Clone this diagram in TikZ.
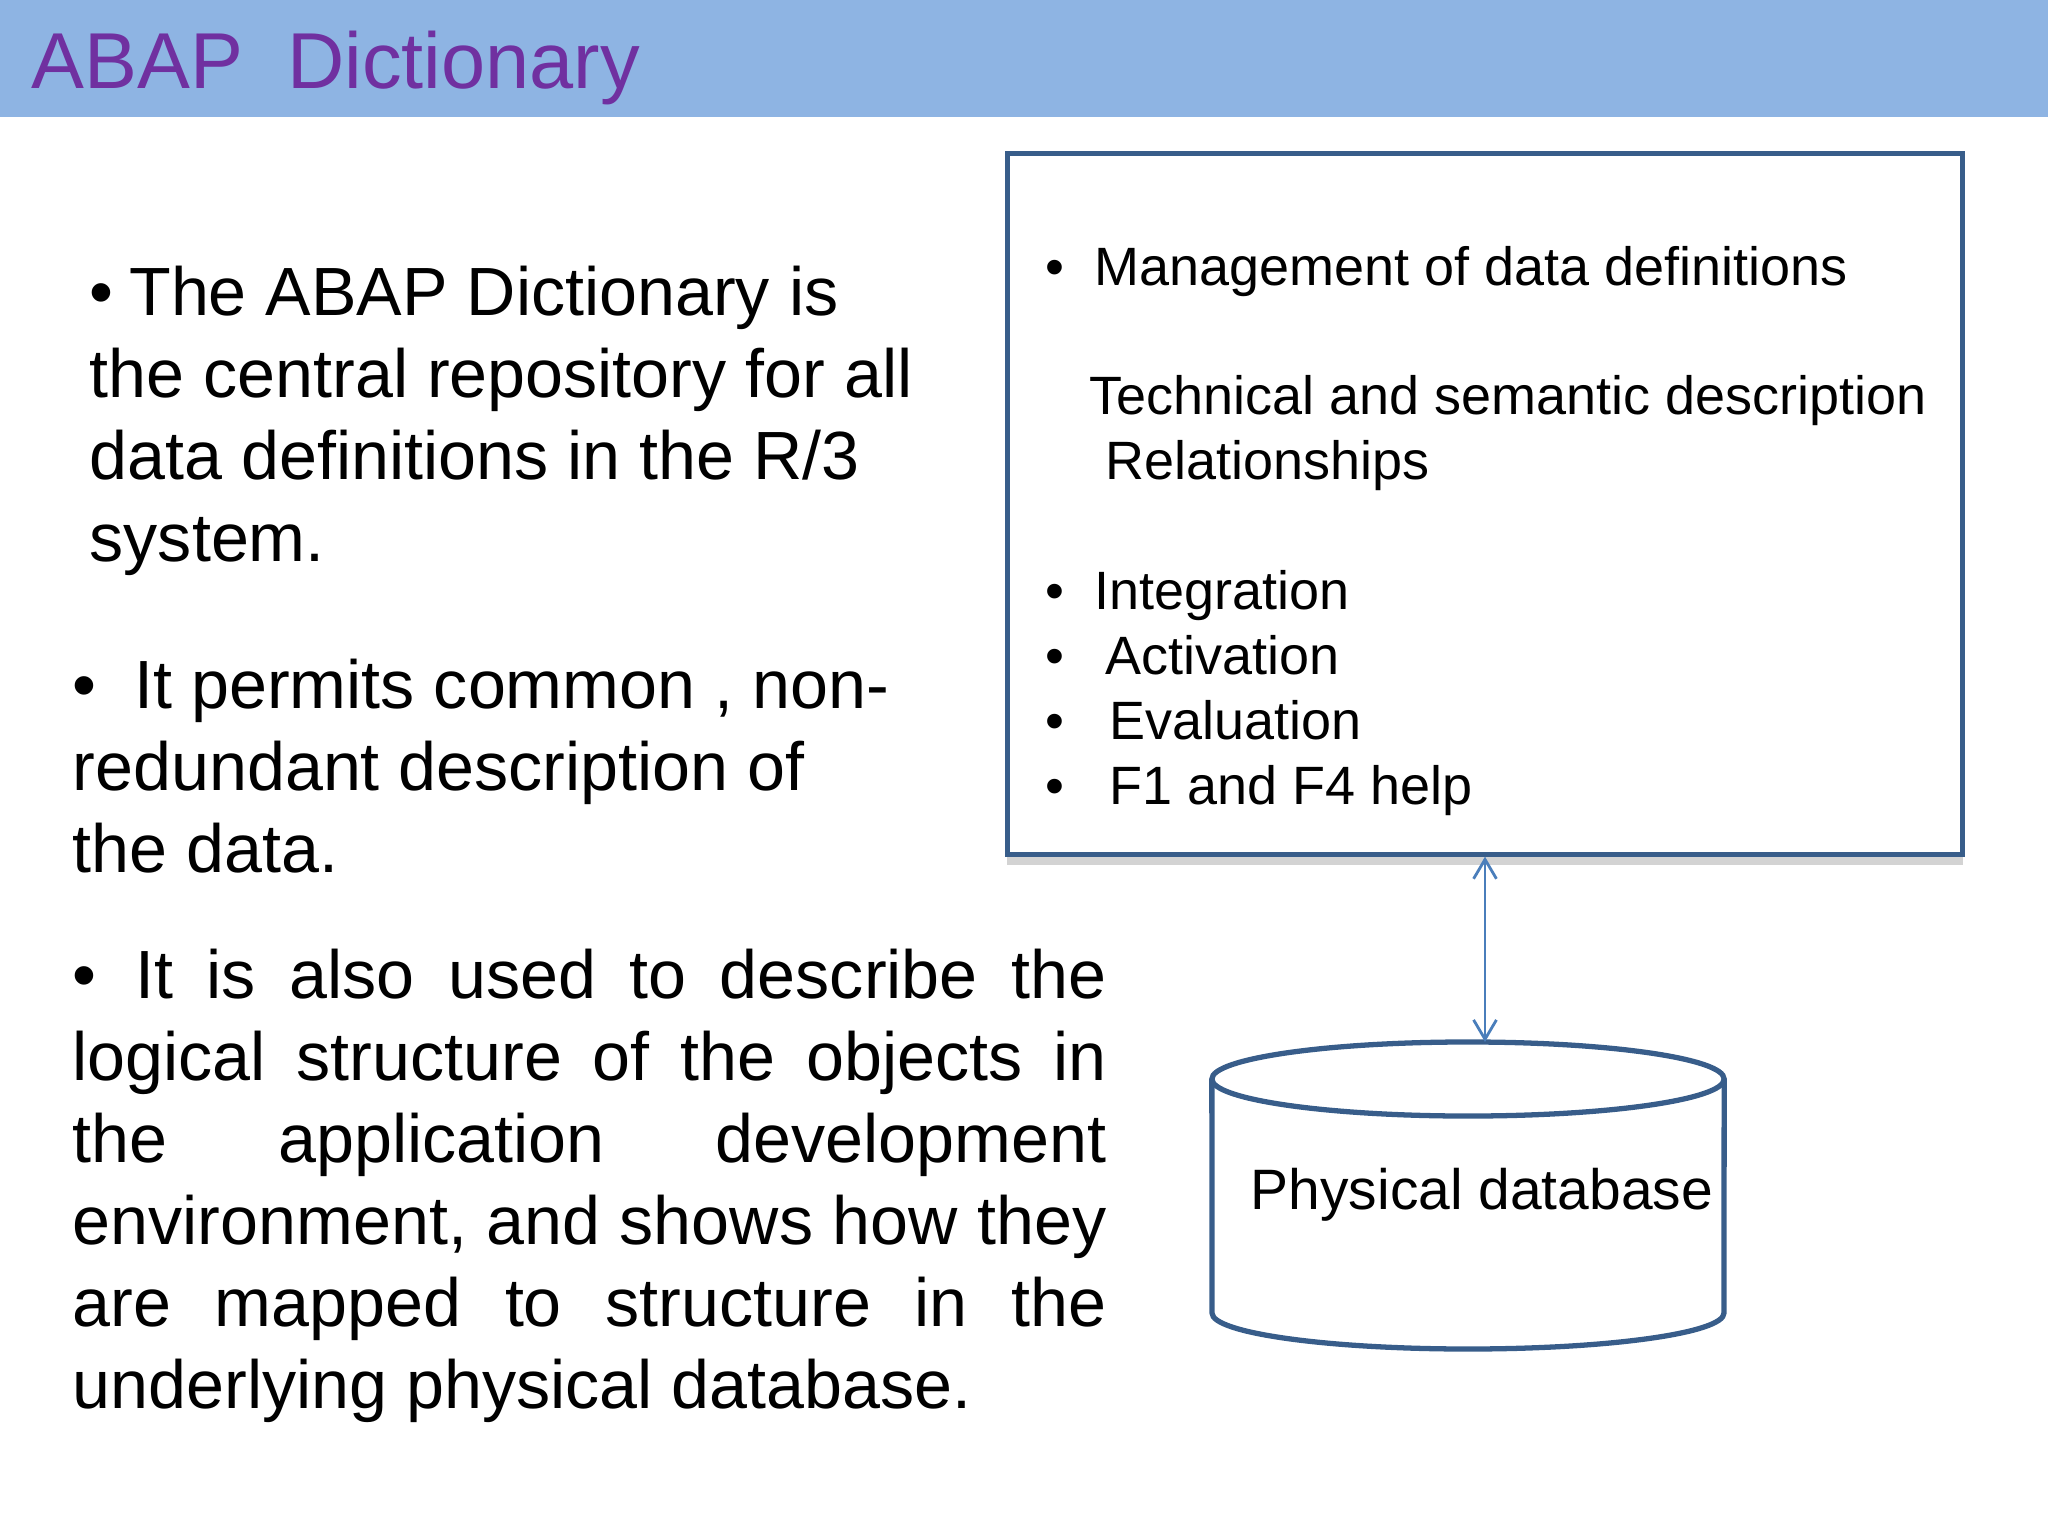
\documentclass[tikz,border=0pt]{standalone}
\usepackage{fontspec}
\setmainfont{Liberation Sans}
\usetikzlibrary{shapes.geometric,shadows,arrows.meta}
\definecolor{headerblue}{HTML}{8EB4E3}
\definecolor{titlepurple}{HTML}{7030A0}
\definecolor{borderblue}{HTML}{385D8A}
\definecolor{linkblue}{HTML}{4A7EBB}
\newcommand{\jline}[1]{\makebox[10.33cm][s]{#1}}
\tikzset{
  bodytext/.style={anchor=north west, inner sep=0pt, align=left, font=\fontsize{19.4}{23.33}\selectfont},
  itemtext/.style={anchor=base west, inner sep=0pt, font=\fontsize{15.35}{17}\selectfont}
}
\begin{document}
\begin{tikzpicture}[x=0.01cm, y=-0.01cm]
    \useasboundingbox (0,0) rectangle (2048,1536);

    % Title bar
    \fill[headerblue] (0,0) rectangle (2048,117);
    \node[anchor=base west, inner sep=0pt, text=titlepurple, font=\fontsize{22.55}{26}\selectfont] (title) at (31,88) {ABAP\ \ Dictionary};

    % Left column
    \node[bodytext] (intro) at (89,265.5) {•\hspace{4.5pt}The ABAP Dictionary is\\the central repository for all\\data definitions in the R/3\\system.};
    \node[bodytext] (common) at (72,658.5) {•\ \ It permits common , non-\\redundant description of\\the data.};
    \node[bodytext] (logical) at (72,948.5) {\jline{•\hspace{11pt}It is also used to describe the}\\\jline{logical structure of the objects in}\\\jline{the application development}\\\jline{environment, and shows how they}\\\jline{are mapped to structure in the}\\underlying physical database.};

    % Definitions box
    \node[draw=borderblue, line width=1.4pt, fill=white, minimum width=9.55cm, minimum height=7cm, inner sep=0pt, drop shadow={shadow xshift=0pt, shadow yshift=-3pt, opacity=0.35}] (defbox) at (1485,504) {};

    % Box items
    \foreach \i/\xpos/\ypos/\txt in {1/1094/285.5/Management of data definitions, 2/1089/414.5/Technical and semantic description, 3/1105/479.5/Relationships, 4/1094/609.5/Integration, 5/1105/674.5/Activation, 6/1109/739/Evaluation, 7/1109/804/F1 and F4 help}
        \node[itemtext] (item\i) at (\xpos,\ypos) {\txt};
    \foreach \i/\ypos in {1/285.5, 4/609.5, 5/674.5, 6/739, 7/804}
        \node[itemtext, anchor=base] (dot\i) at (1055,\ypos) {•};

    % Database
    \node[ellipse, draw=borderblue, line width=1.5pt, minimum width=5.12cm, minimum height=0.74cm, inner sep=0pt, outer sep=0pt] (dbtop) at (1468,1079) {};
    \coordinate (dbleft) at (1212,1313);
    \coordinate (dbright) at (1724,1313);
    \draw[borderblue, line width=1.5pt, line join=round] (dbtop.west) -- (dbleft) .. controls (1212,1333) and (1327,1349) .. (1468,1349) .. controls (1609,1349) and (1724,1333) .. (dbright) -- (dbtop.east);
    \node[anchor=base west, inner sep=0pt, font=\fontsize{16.2}{18}\selectfont] (dblabel) at (1250,1209) {Physical database};

    % Link between box and database
    \coordinate (link) at (1485,0);
    \draw[linkblue, line width=0.8pt, {Straight Barb[length=5.5pt,width=6.5pt]}-{Straight Barb[length=5.5pt,width=6.5pt]}] (defbox.south -| link) -- (dbtop.north -| link);
\end{tikzpicture}
\end{document}
